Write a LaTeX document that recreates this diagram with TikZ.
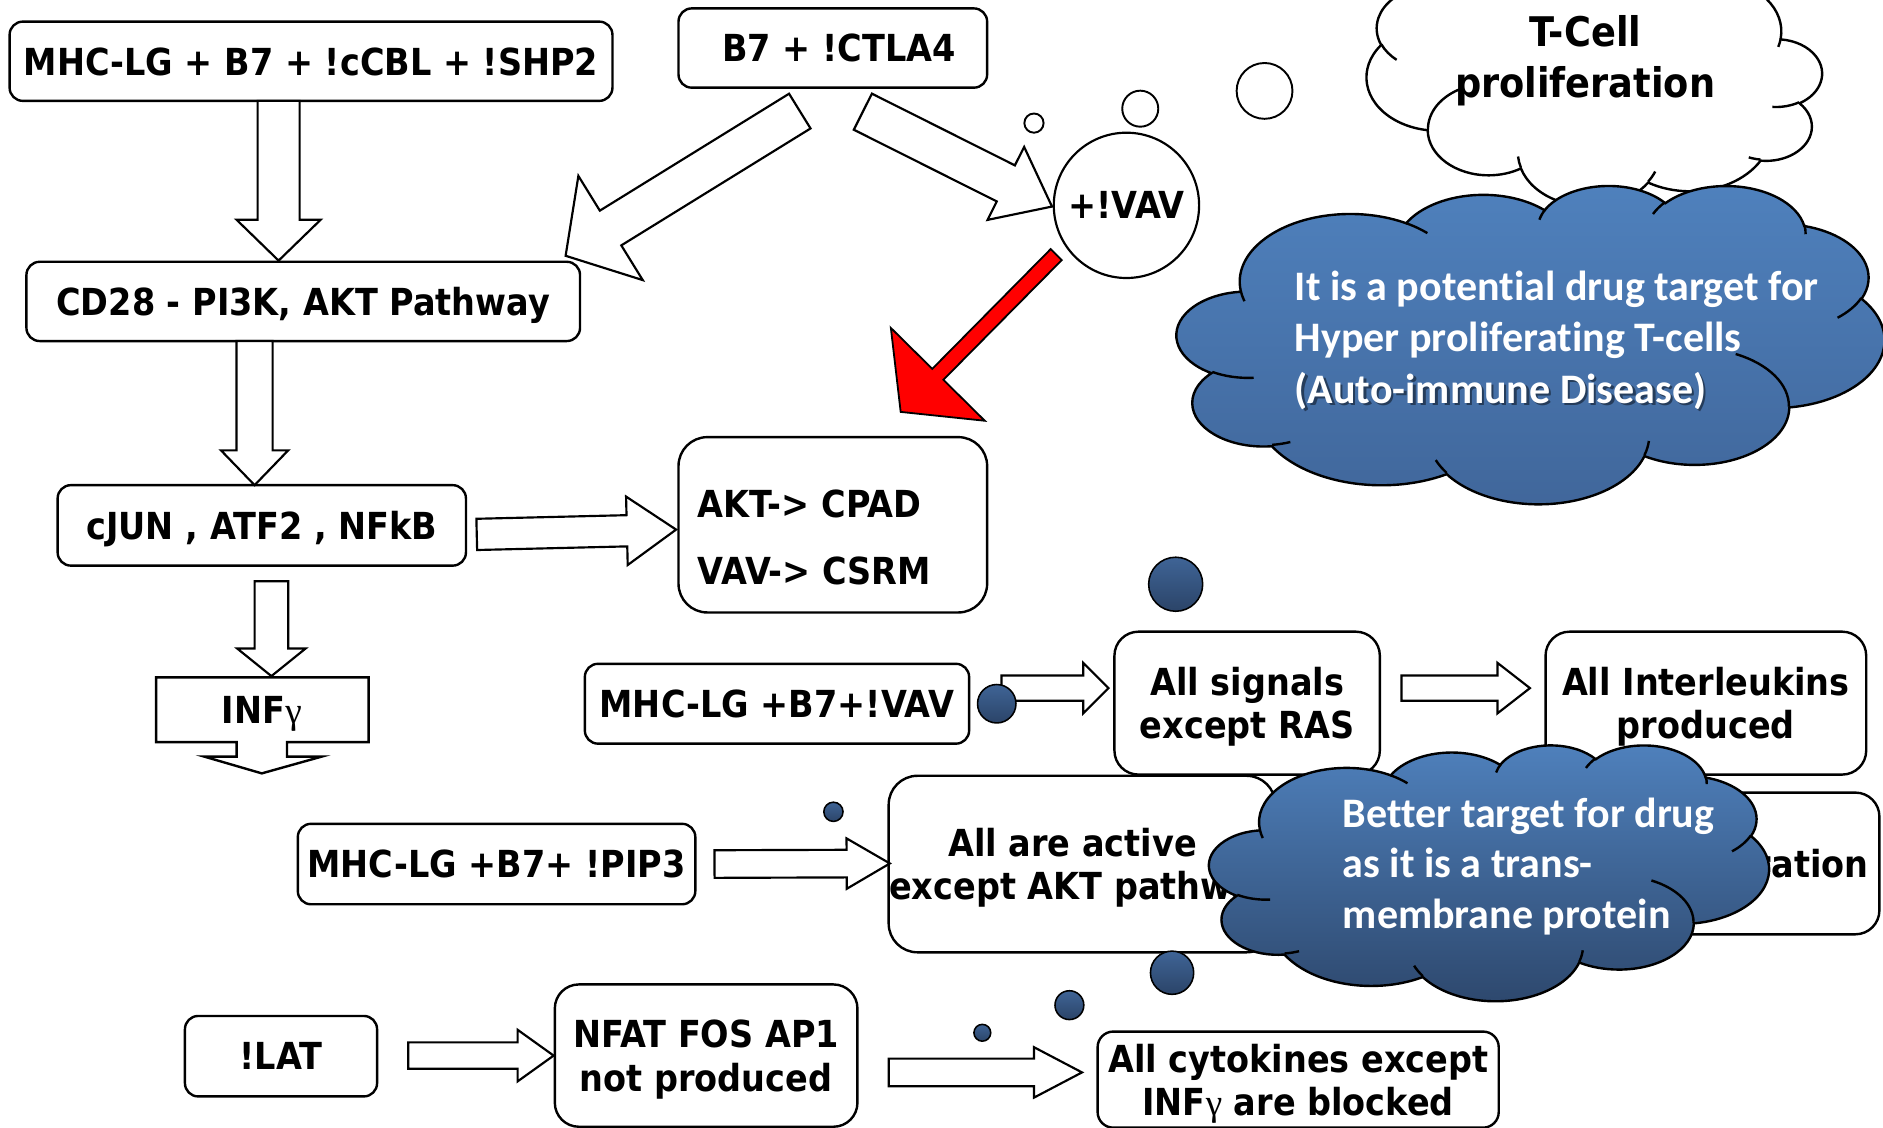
\documentclass[tikz,border=0pt]{standalone}
\usepackage{fontspec}
\usetikzlibrary{calc}
\newfontfamily\bxfont{DejaVu Sans}[FakeStretch=0.9]
\newfontfamily\clfont{Carlito}[Ligatures=NoCommon]
\newfontfamily\grfont{Liberation Serif}
\newcommand\gam{{\grfont\mdseries γ}}
\definecolor{cloudtop}{HTML}{4F81BD}
\definecolor{cloudbotA}{HTML}{40669A}
\definecolor{cloudbotB}{HTML}{2D476C}
\definecolor{dottop}{HTML}{3F6496}
\definecolor{dotbot}{HTML}{2B4468}
\definecolor{arrowred}{HTML}{FF0000}

\tikzset{
  rbox/.style={draw, line width=2pt, fill=white, rounded corners=#1, align=center,
    inner sep=0pt, text depth=0pt, font=\bxfont\bfseries\fontsize{31}{36}\selectfont},
  btext/.style={font=\bxfont\bfseries\fontsize{31}{36}\selectfont, inner sep=0pt, text depth=0pt},
  ctext/.style={font=\clfont\bfseries\fontsize{35}{42}\selectfont, text=white, inner sep=0pt, anchor=base west},
  barrow/.style={draw, fill=white, line width=1.8pt},
  cloudline/.style={line width=2pt},
  bubble/.style={circle, draw, fill=white, line width=1.6pt, inner sep=0pt},
  dot/.style={circle, draw, line width=1.3pt, top color=dottop, bottom color=dotbot, inner sep=0pt},
}

% block arrow: [style] tail, tip, shaft half width, head half width, head length
\newcommand\blockarrow[6][]{%
  \coordinate (ba-h) at ($(#3)!#6pt!(#2)$);
  \draw[barrow,#1] ($(#2)!#4pt!90:(#3)$) -- ($(ba-h)!#4pt!-90:(#2)$)
    -- ($(ba-h)!#5pt!-90:(#2)$) -- (#3) -- ($(ba-h)!#5pt!90:(#2)$)
    -- ($(ba-h)!#4pt!90:(#2)$) -- ($(#2)!#4pt!-90:(#3)$) -- cycle;
}

% elliptic arc given by radii, visual start angle and sweep (y axis pointing down)
\newcommand\carc[4]{\pgfextra{%
  \pgfmathsetmacro\cphs{atan2((#1)*sin(#3),(#2)*cos(#3))}%
  \pgfmathsetmacro\cphe{atan2((#1)*sin((#3)+(#4)),(#2)*cos((#3)+(#4)))}%
  \pgfmathsetmacro\cdph{mod(\cphe-\cphs+720,360)}%
 } arc[start angle=\cphs, delta angle=\cdph, x radius=#1, y radius=#2]}

% cloud outline in a 432 x 432 box
\newcommand\cloudoutline{%
  (39.00,143.70) \carc{67.53}{91.90}{-190.487}{123.781}
  \carc{53.33}{72.67}{-144.102}{89.945}
  \carc{43.65}{59.45}{-145.808}{99.723}
  \carc{48.57}{65.95}{-130.986}{117.242}
  \carc{53.33}{72.73}{-78.709}{109.027}
  \carc{67.75}{92.20}{-46.267}{130.269}
  \carc{57.85}{78.67}{0.625}{114.033}
  \carc{67.52}{92.15}{22.452}{115.173}
  \carc{77.20}{105.43}{66.243}{75.711}
  \carc{43.60}{59.18}{-274.942}{146.736}
  \carc{43.45}{59.45}{-246.829}{152.519} -- cycle}

% inner creases of the cloud
\newcommand\cloudcreases{%
  (46.93,261.77) \carc{43.45}{59.45}{86.742}{26.430}
  (69.28,348.99) \carc{43.60}{59.18}{73.610}{11.447}
  (164.78,390.90) \carc{67.52}{92.15}{137.624}{14.081}
  (288.27,347.51) \carc{67.52}{92.15}{6.453}{15.998}
  (341.29,229.54) \carc{57.85}{78.67}{-70.292}{70.917}
  (417.98,153.54) \carc{53.33}{72.73}{30.318}{27.752}
  (383.24,54.26) \carc{48.57}{65.95}{-13.744}{14.859}
  (290.78,39.52) \carc{48.57}{65.95}{-149.181}{18.195}
  (221.41,47.20) \carc{43.65}{59.45}{-163.494}{17.674}
  (140.00,51.92) \carc{67.53}{91.90}{-66.707}{12.319}
  (41.27,157.89) \carc{67.53}{91.90}{157.654}{11.858}}

\begin{document}
\begin{tikzpicture}[x=1pt, y=-1pt]
\useasboundingbox (0,0) rectangle (1568,939);
\clip (0,0) rectangle (1568,939);
\fill[white] (0,0) rectangle (1568,939);

% ---- boxes ----
\node[rbox=11pt, minimum width=502pt, minimum height=66pt] (A) at (259,51) {MHC-LG + B7 + !cCBL + !SHP2};
\node[rbox=11pt, minimum width=257pt, minimum height=66pt] (B) at (693.5,40) {\hspace*{10pt}B7 + !CTLA4};
\node[rbox=11pt, minimum width=461pt, minimum height=66pt] (C) at (252.5,251) {CD28 - PI3K, AKT Pathway};
\node[rbox=11pt, minimum width=340pt, minimum height=67pt] (D) at (218,437.5) {cJUN , ATF2 , NFkB};
\node[rbox=24pt, minimum width=257pt, minimum height=146pt] (E) at (693.5,437) {};
\node[btext, anchor=base west] (E1) at (581,431) {AKT-> CPAD};
\node[btext, anchor=base west] (E2) at (581,487) {VAV-> CSRM};
\node[rbox=11pt, minimum width=320pt, minimum height=66.5pt] (F) at (647,586) {MHC-LG +B7+!VAV};
\node[rbox=20pt, minimum width=221pt, minimum height=119pt] (G) at (1038.5,585.5) {All signals\\except RAS};
\node[rbox=20pt, minimum width=267pt, minimum height=119pt] (H) at (1420.5,585.5) {All Interleukins\\produced};
\node[rbox=20pt, minimum width=270pt, minimum height=118pt] (I) at (1430,719) {};
\node[btext, anchor=base east] (Itext) at (1556,731) {proliferation};
\node[rbox=11pt, minimum width=331pt, minimum height=67pt] (J) at (413.5,719.5) {MHC-LG +B7+ !PIP3};
\node[rbox=24pt, minimum width=322pt, minimum height=147pt] (K) at (901,719.5) {All are active\hspace*{16pt}\\except AKT pathway};
\node[rbox=11pt, minimum width=160pt, minimum height=67pt] (L) at (234,879.5) {!LAT};
\node[rbox=20pt, minimum width=252pt, minimum height=118.5pt] (M) at (588,879) {NFAT FOS AP1\\not produced};
\node[rbox=13pt, minimum width=334pt, minimum height=80pt] (N) at (1081,899) {All cytokines except\\INF\gam{} are blocked};

% INF-gamma callout with its downward arrow
\draw[barrow, line width=2pt] (130,564) -- (307,564) -- (307,618) -- (239,618) -- (239,630) -- (268,630)
  -- (218,644) -- (170,630) -- (197,630) -- (197,618) -- (130,618) -- cycle;
\node[btext] (INF) at (218,591) {INF\gam};

% ---- circle ----
\node[circle, draw, fill=white, line width=1.8pt, minimum size=121pt, inner sep=0pt,
  font=\bxfont\bfseries\fontsize{31}{36}\selectfont] (V) at (938,171) {+!VAV};

% ---- block arrows ----
\coordinate (ac1) at (232,84);    \coordinate (ac2) at (232,217);
\coordinate (bc1) at (666,92.5);  \coordinate (bc2) at (471,213);
\coordinate (bv1) at (718.5,93);  \coordinate (bv2) at (876,172);
\coordinate (ve1) at (879.5,212); \coordinate (ve2) at (750,343);
\coordinate (cd1) at (212,284);   \coordinate (cd2) at (212,404);
\coordinate (de1) at (397,445);   \coordinate (de2) at (563,441);
\coordinate (di1) at (226,484);   \coordinate (di2) at (226,563);
\coordinate (fg1) at (834,573);   \coordinate (fg2) at (923,573);
\coordinate (gh1) at (1167,573);  \coordinate (gh2) at (1274,573);
\coordinate (jk1) at (595,719.5); \coordinate (jk2) at (741,719);
\coordinate (lm1) at (340,879);   \coordinate (lm2) at (461,879);
\coordinate (mn1) at (740,893);   \coordinate (mn2) at (901,893);

\blockarrow{ac1}{ac2}{17.5}{35}{34}
\blockarrow{bc1}{bc2}{17}{51}{44}
\blockarrow{bv1}{bv2}{16.8}{34}{43}
\blockarrow[fill=arrowred, line width=1.5pt]{ve1}{ve2}{6.5}{55}{44}
\blockarrow{cd1}{cd2}{15}{28}{29}
\blockarrow{de1}{de2}{13}{28.5}{41}
\blockarrow{di1}{di2}{14}{28.5}{23}
\blockarrow{fg1}{fg2}{10.5}{21}{21}
\blockarrow{gh1}{gh2}{10.5}{21}{27}
\blockarrow{jk1}{jk2}{11.5}{21}{36}
\blockarrow{lm1}{lm2}{11}{21.5}{30}
\blockarrow{mn1}{mn2}{11.5}{21}{40}

% ---- white thought cloud (mirrored) ----
\node[bubble, minimum size=16pt] (w1) at (861,102.5) {};
\node[bubble, minimum size=30pt] (w2) at (949.5,90.5) {};
\node[bubble, minimum size=46.5pt] (w3) at (1053,75.7) {};
\begin{scope}[shift={(1517,-37)}, xscale=-379/432, yscale=208/432]
  \path[cloudline, draw, fill=white] \cloudoutline;
  \draw[cloudline] \cloudcreases;
\end{scope}
\node[btext, font=\bxfont\bfseries\fontsize{34}{43}\selectfont, anchor=base] (W1) at (1320,38.5) {T-Cell};
\node[btext, font=\bxfont\bfseries\fontsize{34}{43}\selectfont, anchor=base] (W2) at (1320,81.5) {proliferation};

% ---- blue thought cloud (upper) ----
\begin{scope}[shift={(980,154)}, xscale=589/432, yscale=265/432]
  \path[cloudline, draw, top color=cloudtop, bottom color=cloudbotA] \cloudoutline;
  \draw[cloudline] \cloudcreases;
\end{scope}
\node[ctext] (C1a) at (1078,250.5) {It is a potential drug target for};
\node[ctext] (C1b) at (1078,292.5) {Hyper proliferating T-cells};
\node[ctext, text=black, opacity=0.45] (C1s) at (1080,338) {(Auto-immune Disease)};
\node[ctext] (C1c) at (1078,336) {(Auto-immune Disease)};

% ---- dark bubbles ----
\node[dot, minimum size=45pt] (d1) at (979,486.5) {};
\node[dot, minimum size=32pt] (d2) at (830,586) {};
\node[dot, minimum size=16pt] (d3) at (694,676) {};
\node[dot, minimum size=36pt] (d4) at (976,810) {};
\node[dot, minimum size=24pt] (d5) at (890.5,837) {};
\node[dot, minimum size=14pt] (d6) at (818,860) {};

% ---- blue thought cloud (lower) ----
\begin{scope}[shift={(1007,620)}, xscale=466/432, yscale=213/432]
  \path[cloudline, draw, top color=cloudtop, bottom color=cloudbotB] \cloudoutline;
  \draw[cloudline] \cloudcreases;
\end{scope}
\node[ctext] (C2a) at (1118,689) {Better target for drug};
\node[ctext] (C2b) at (1118,731) {as it is a trans-};
\node[ctext] (C2c) at (1118,773) {membrane protein};
\end{tikzpicture}
\end{document}
